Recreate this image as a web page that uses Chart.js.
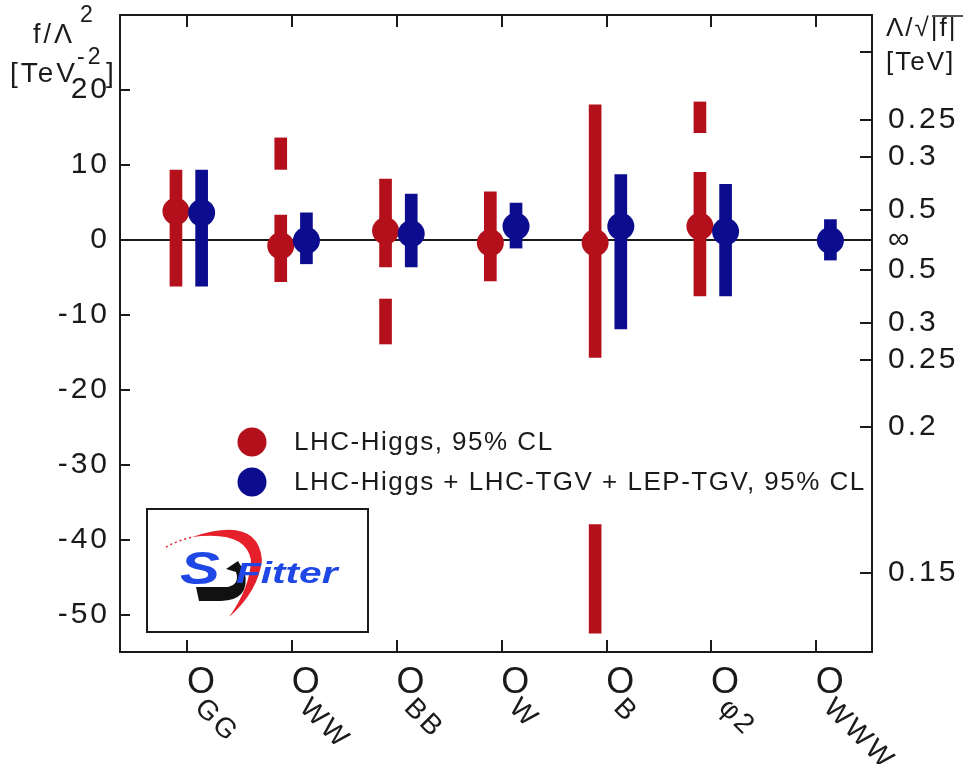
<!DOCTYPE html>
<html>
<head>
<meta charset="utf-8">
<script src="https://cdn.jsdelivr.net/npm/chart.js@4.4.1/dist/chart.umd.min.js"></script>
<style>
  html, body { margin: 0; padding: 0; background: #fff; }
  #wrap { width: 967px; height: 764px; }
</style>
</head>
<body>
<div id="wrap"><canvas id="chart" width="967" height="764"></canvas></div>
<script>
// operators on the x axis (drawn as O with subscript)
const operators = ['GG', 'WW', 'BB', 'W', 'B', 'φ2', 'WWW'];

// LHC-Higgs, 95% CL : best point, main interval, second (disjoint) interval
const higgsBest  = [3.8, -0.8, 1.2, -0.4, -0.4, 1.8, null];
const higgsLow   = [-6.2, -5.6, -3.6, -5.5, -15.7, -7.5, null];
const higgsHigh  = [9.3, 3.3, 8.1, 6.4, 18.0, 9.0, null];
const higgsLow2  = [null, 9.4, -13.9, null, -52.5, 14.3, null];
const higgsHigh2 = [null, 13.6, -7.9, null, -38.0, 18.4, null];

// LHC-Higgs + LHC-TGV + LEP-TGV, 95% CL
const comboBest = [3.6, -0.1, 0.8, 1.8, 1.8, 1.1, -0.1];
const comboLow  = [-6.2, -3.2, -3.6, -1.1, -11.9, -7.5, -2.7];
const comboHigh = [9.3, 3.6, 6.1, 4.9, 8.7, 7.4, 2.7];

// left axis f/Lambda^2 [TeV^-2]
const leftTicks = [20, 10, 0, -10, -20, -30, -40, -50];
// right axis Lambda/sqrt|f| [TeV], sign tells on which side of zero
const lambdaTicks  = [0.2, 0.25, 0.3, 0.5, Infinity, -0.5, -0.3, -0.25, -0.2, -0.15];
const lambdaLabels = ['', '0.25', '0.3', '0.5', '∞', '0.5', '0.3', '0.25', '0.2', '0.15'];

const RED = '#b3101c';
const BLUE = '#0c0c8e';
const INK = '#1a1a1a';
const FONT = '"Liberation Sans", Arial, Helvetica, sans-serif';
const RED_DX = -0.11, BLUE_DX = 0.135;

function bars(low, high, dx) {
  const out = [];
  low.forEach((v, i) => { if (v != null) out.push({ x: i + dx, y: [v, high[i]] }); });
  return out;
}
function points(best, dx) {
  const out = [];
  best.forEach((v, i) => { if (v != null) out.push({ x: i + dx, y: v }); });
  return out;
}
function lambdaToF(l) { return Math.sign(l) / (l * l); }

// wider text spacing for the axis numbers, like the original
const spacing = {
  id: 'spacing',
  beforeDraw(chart) { chart.ctx.letterSpacing = '3px'; }
};

// frame, inward ticks, rotated operator labels, titles, legend, logo
const deco = {
  id: 'deco',
  afterDraw(chart) {
    const { ctx, chartArea: a, scales } = chart;
    const x = scales.x, y = scales.y;
    ctx.save();
    ctx.letterSpacing = '0px';

    ctx.strokeStyle = INK;
    ctx.lineWidth = 2;
    ctx.strokeRect(a.left, a.top, a.right - a.left, a.bottom - a.top);
    ctx.beginPath();
    leftTicks.forEach(v => {
      const p = Math.round(y.getPixelForValue(v));
      ctx.moveTo(a.left, p); ctx.lineTo(a.left + 10, p);
    });
    lambdaTicks.forEach(l => {
      if (!isFinite(l)) return;
      const p = Math.round(y.getPixelForValue(lambdaToF(l)));
      ctx.moveTo(a.right, p); ctx.lineTo(a.right - 12, p);
    });
    operators.forEach((_, i) => {
      const p = Math.round(x.getPixelForValue(i));
      ctx.moveTo(p, a.top); ctx.lineTo(p, a.top + 12);
      ctx.moveTo(p, a.bottom); ctx.lineTo(p, a.bottom - 12);
    });
    ctx.stroke();

    // x labels: O with rotated subscript
    ctx.fillStyle = INK;
    operators.forEach((sub, i) => {
      const p = x.getPixelForValue(i);
      ctx.save();
      ctx.translate(p + 13.5, a.bottom + 31);
      ctx.font = '36px ' + FONT;
      ctx.textAlign = 'center';
      ctx.textBaseline = 'middle';
      ctx.fillText('O', 0, 0);
      ctx.rotate(Math.PI / 4);
      ctx.font = '28px ' + FONT;
      ctx.textAlign = 'left';
      let s = 13;
      for (const ch of sub) {
        ctx.fillText(ch, s, 16);
        s += ctx.measureText(ch).width + 3;
      }
      ctx.restore();
    });

    // left title
    ctx.textAlign = 'left';
    ctx.textBaseline = 'alphabetic';
    ctx.letterSpacing = '3px';
    ctx.font = '27px ' + FONT;
    ctx.fillText('f/Λ', 33, 43);
    ctx.font = '23px ' + FONT;
    ctx.fillText('2', 80, 22);
    ctx.font = '28px ' + FONT;
    ctx.fillText('[TeV', 10, 82);
    ctx.font = '23px ' + FONT;
    ctx.fillText('-2', 77, 64);
    ctx.font = '28px ' + FONT;
    ctx.fillText(']', 106, 82);

    // right title
    ctx.font = '26px ' + FONT;
    ctx.letterSpacing = '2px';
    ctx.fillText('Λ/√|f|', 886, 36);
    ctx.fillText('[TeV]', 886, 70);
    ctx.beginPath();
    ctx.lineWidth = 1.5;
    ctx.moveTo(932, 16); ctx.lineTo(963, 16);
    ctx.stroke();

    // legend
    const legend = [[RED, 'LHC-Higgs, 95% CL', 442], [BLUE, 'LHC-Higgs + LHC-TGV + LEP-TGV, 95% CL', 482]];
    ctx.font = '26px ' + FONT;
    ctx.letterSpacing = '1.5px';
    ctx.textBaseline = 'middle';
    legend.forEach(([c, t, ly]) => {
      ctx.fillStyle = c;
      ctx.beginPath(); ctx.arc(252, ly, 14.5, 0, Math.PI * 2); ctx.fill();
      ctx.fillStyle = INK;
      ctx.fillText(t, 294, ly + 1);
    });
    ctx.letterSpacing = '0px';

    // SFitter logo
    ctx.strokeStyle = INK;
    ctx.lineWidth = 2;
    ctx.strokeRect(147, 509, 221, 123);
    ctx.fillStyle = '#e5202a';
    ctx.beginPath();
    ctx.moveTo(192, 537);
    ctx.quadraticCurveTo(258, 515, 262, 560);
    ctx.quadraticCurveTo(258, 592, 229, 617);
    ctx.quadraticCurveTo(250, 588, 251, 560);
    ctx.quadraticCurveTo(246, 530, 192, 537);
    ctx.fill();
    ctx.strokeStyle = '#e5202a';
    ctx.lineWidth = 1.5;
    ctx.setLineDash([2, 3]);
    ctx.beginPath();
    ctx.moveTo(166, 547); ctx.quadraticCurveTo(178, 540, 194, 537);
    ctx.stroke();
    ctx.setLineDash([]);
    // black lower hook of the S
    ctx.fillStyle = '#111';
    ctx.beginPath();
    ctx.moveTo(196, 587); ctx.lineTo(228, 587);
    ctx.quadraticCurveTo(240, 584, 236, 572);
    ctx.lineTo(226, 569); ctx.lineTo(238, 561); ctx.lineTo(245, 573);
    ctx.quadraticCurveTo(250, 600, 221, 601);
    ctx.lineTo(199, 601);
    ctx.closePath();
    ctx.fill();
    // blue S and text
    ctx.fillStyle = '#1f47e6';
    ctx.textBaseline = 'alphabetic';
    ctx.save();
    ctx.translate(180, 584);
    ctx.scale(1.3, 1);
    ctx.font = 'italic bold 46px ' + FONT;
    ctx.fillText('S', 0, 0);
    ctx.restore();
    ctx.save();
    ctx.translate(236, 583);
    ctx.scale(1.4, 1);
    ctx.font = 'italic bold 29px ' + FONT;
    ctx.fillText('Fitter', 0, 0);
    ctx.restore();

    ctx.restore();
  }
};

new Chart(document.getElementById('chart'), {
  type: 'bar',
  data: {
    datasets: [
      { type: 'line', data: points(comboBest, BLUE_DX), showLine: false, pointRadius: 13.5, pointHoverRadius: 13.5,
        pointBackgroundColor: BLUE, pointBorderWidth: 0, order: 0 },
      { data: bars(comboLow, comboHigh, BLUE_DX), backgroundColor: BLUE, barThickness: 12, grouped: false, order: 1 },
      { type: 'line', data: points(higgsBest, RED_DX), showLine: false, pointRadius: 13.5, pointHoverRadius: 13.5,
        pointBackgroundColor: RED, pointBorderWidth: 0, order: 2 },
      { data: bars(higgsLow, higgsHigh, RED_DX), backgroundColor: RED, barThickness: 12, grouped: false, order: 3 },
      { data: bars(higgsLow2, higgsHigh2, RED_DX), backgroundColor: RED, barThickness: 12, grouped: false, order: 4 }
    ]
  },
  options: {
    responsive: false,
    animation: false,
    layout: { padding: { top: 15, left: 0, right: 0, bottom: 0 } },
    plugins: { legend: { display: false }, tooltip: { enabled: false } },
    scales: {
      x: {
        type: 'linear', min: -0.644, max: 6.532, offset: false,
        grid: { display: false }, border: { display: false },
        ticks: { display: false },
        afterFit(s) { s.height = 112; s.paddingLeft = 0; s.paddingRight = 0; }
      },
      y: {
        position: 'left', min: -55, max: 30,
        afterBuildTicks(s) { s.ticks = leftTicks.map(v => ({ value: v })); },
        ticks: { autoSkip: false, padding: 10, color: INK, font: { family: FONT, size: 30 } },
        grid: { drawTicks: false, lineWidth: 2, color: c => (c.tick && c.tick.value === 0 ? INK : 'rgba(0,0,0,0)') },
        border: { display: false },
        afterFit(s) { s.width = 120; s.paddingTop = 0; s.paddingBottom = 0; }
      },
      y2: {
        position: 'right', min: -55, max: 30,
        afterBuildTicks(s) { s.ticks = lambdaTicks.map(l => ({ value: lambdaToF(l) })); },
        ticks: { autoSkip: false, padding: 16, color: INK, font: { family: FONT, size: 30 },
                 callback: (v, i) => lambdaLabels[i] },
        grid: { display: false, drawTicks: false }, border: { display: false },
        afterFit(s) { s.width = 95; s.paddingTop = 0; s.paddingBottom = 0; }
      }
    }
  },
  plugins: [spacing, deco]
});
</script>
</body>
</html>
